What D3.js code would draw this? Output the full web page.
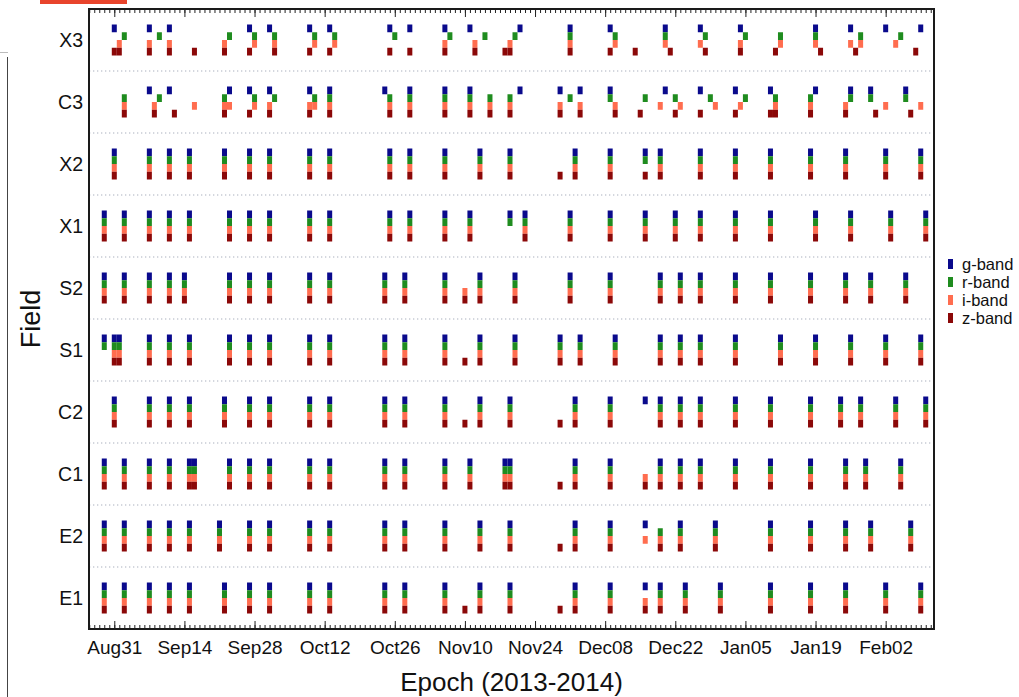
<!DOCTYPE html>
<html><head><meta charset="utf-8">
<script src="https://cdn.jsdelivr.net/npm/d3@7"></script>
<style>
html,body{margin:0;padding:0;background:#fff;}
svg{display:block;font-family:"Liberation Sans",Arial,Helvetica,sans-serif;}
</style></head>
<body><svg id="chart" width="1019" height="697"></svg>
<script>
// Fields (bottom to top)
const fields = ["E1","E2","C1","C2","S1","S2","X1","X2","C3","X3"];
const bands = ["g","r","i","z"];
const bandLabels = ["g-band","r-band","i-band","z-band"];
const bandColors = ["#0a0a8c","#1f8c1f","#ff6d4f","#8b0808"];
// Tick labels (every 14 days, day 0 = Aug 31 2013)
const tickDays = [0,14,28,42,56,70,84,98,112,126,140,154];
const tickLabels = ["Aug31","Sep14","Sep28","Oct12","Oct26","Nov10","Nov24","Dec08","Dec22","Jan05","Jan19","Feb02"];

// Observations per field: [day since Aug31, bands observed]
const E1 = [[-2,"griz"],[2,"griz"],[7,"griz"],[11,"griz"],[15,"griz"],[22,"griz"],[27,"griz"],[31,"griz"],[39,"griz"],[43,"griz"],[54,"griz"],[58,"griz"],[66,"griz"],[70,"z"],[73,"griz"],[79,"griz"],[89,"z"],[92,"griz"],[99,"griz"],[106,"giz"],[109,"griz"],[114,"griz"],[121,"griz"],[131,"griz"],[139,"griz"],[146,"griz"],[154,"griz"],[161,"griz"]];
const E2 = [[-2,"griz"],[2,"griz"],[7,"griz"],[11,"griz"],[15,"griz"],[21,"griz"],[27,"griz"],[31,"griz"],[39,"griz"],[43,"griz"],[54,"griz"],[58,"griz"],[66,"griz"],[73,"griz"],[79,"griz"],[89,"z"],[92,"griz"],[99,"griz"],[106,"gi"],[109,"riz"],[113,"griz"],[120,"griz"],[131,"griz"],[139,"griz"],[146,"griz"],[151,"griz"],[159,"griz"]];
const C1 = [[-2,"griz"],[2,"griz"],[7,"griz"],[11,"griz"],[15,"griz"],[16,"griz"],[23,"griz"],[27,"griz"],[31,"griz"],[39,"griz"],[43,"griz"],[54,"griz"],[58,"griz"],[66,"griz"],[71,"griz"],[78,"griz"],[79,"griz"],[89,"z"],[92,"griz"],[99,"griz"],[106,"iz"],[109,"griz"],[113,"griz"],[117,"griz"],[124,"griz"],[131,"griz"],[139,"griz"],[146,"griz"],[150,"griz"],[157,"griz"]];
const C2 = [[0,"griz"],[7,"griz"],[11,"griz"],[15,"griz"],[22,"griz"],[27,"griz"],[31,"griz"],[39,"griz"],[43,"griz"],[54,"griz"],[58,"griz"],[66,"griz"],[70,"z"],[73,"griz"],[79,"griz"],[89,"z"],[92,"griz"],[99,"griz"],[106,"g"],[109,"griz"],[113,"griz"],[117,"griz"],[124,"griz"],[131,"griz"],[139,"griz"],[145,"griz"],[149,"griz"],[156,"griz"],[162,"griz"]];
const S1 = [[-2,"gr"],[0,"griz"],[1,"griz"],[7,"griz"],[11,"griz"],[15,"griz"],[23,"griz"],[27,"griz"],[31,"griz"],[39,"griz"],[43,"griz"],[54,"griz"],[58,"griz"],[66,"griz"],[70,"z"],[73,"griz"],[80,"griz"],[89,"griz"],[93,"griz"],[100,"griz"],[109,"griz"],[113,"griz"],[117,"griz"],[124,"griz"],[133,"griz"],[140,"griz"],[147,"griz"],[154,"griz"],[161,"griz"]];
const S2 = [[-2,"griz"],[2,"griz"],[7,"griz"],[11,"griz"],[14,"griz"],[23,"griz"],[27,"griz"],[31,"griz"],[39,"griz"],[43,"griz"],[54,"griz"],[58,"griz"],[66,"griz"],[70,"iz"],[73,"griz"],[80,"griz"],[91,"griz"],[99,"griz"],[109,"griz"],[113,"griz"],[117,"griz"],[124,"griz"],[131,"griz"],[139,"griz"],[146,"griz"],[151,"griz"],[158,"griz"]];
const X1 = [[-2,"griz"],[2,"griz"],[7,"griz"],[11,"griz"],[15,"griz"],[23,"griz"],[27,"griz"],[31,"griz"],[39,"griz"],[43,"griz"],[55,"griz"],[59,"griz"],[66,"griz"],[71,"griz"],[79,"gr"],[82,"griz"],[91,"griz"],[99,"griz"],[106,"griz"],[112,"griz"],[117,"griz"],[124,"griz"],[131,"griz"],[140,"griz"],[147,"griz"],[155,"griz"],[162,"griz"]];
const X2 = [[0,"griz"],[7,"griz"],[11,"griz"],[15,"griz"],[22,"griz"],[27,"griz"],[31,"griz"],[39,"griz"],[43,"griz"],[55,"griz"],[59,"griz"],[66,"griz"],[73,"griz"],[79,"griz"],[89,"z"],[92,"griz"],[99,"griz"],[106,"grz"],[109,"griz"],[117,"griz"],[124,"griz"],[131,"griz"],[139,"griz"],[146,"griz"],[154,"griz"],[161,"griz"]];
const C3 = [[2,"riz"],[7,"g"],[8,"iz"],[9,"r"],[11,"g"],[12,"z"],[16,"i"],[22,"riz"],[23,"gi"],[27,"gz"],[28,"ri"],[31,"giz"],[32,"r"],[39,"giz"],[40,"ri"],[43,"griz"],[54,"g"],[55,"riz"],[59,"griz"],[66,"griz"],[71,"griz"],[75,"riz"],[79,"riz"],[81,"g"],[89,"giz"],[91,"r"],[93,"giz"],[99,"gr"],[100,"iz"],[105,"z"],[106,"r"],[109,"i"],[110,"g"],[112,"rz"],[113,"i"],[117,"gz"],[119,"r"],[120,"i"],[124,"gz"],[125,"i"],[126,"r"],[131,"gz"],[132,"riz"],[139,"riz"],[140,"g"],[146,"iz"],[147,"gr"],[151,"gr"],[152,"z"],[154,"i"],[158,"gr"],[159,"z"],[161,"i"]];
const X3 = [[0,"gz"],[1,"iz"],[2,"r"],[7,"giz"],[9,"r"],[11,"giz"],[16,"z"],[22,"iz"],[23,"r"],[27,"gz"],[28,"ri"],[31,"g"],[32,"riz"],[39,"gz"],[40,"ri"],[43,"gz"],[44,"ri"],[55,"gz"],[56,"r"],[59,"gz"],[66,"giz"],[67,"r"],[71,"g"],[72,"iz"],[74,"r"],[78,"z"],[79,"iz"],[80,"r"],[81,"g"],[91,"griz"],[99,"gz"],[100,"ri"],[104,"z"],[110,"gri"],[111,"z"],[117,"gi"],[118,"rz"],[125,"giz"],[126,"r"],[132,"z"],[133,"ri"],[140,"gri"],[141,"z"],[147,"gi"],[148,"z"],[149,"ri"],[154,"g"],[156,"i"],[157,"r"],[160,"z"],[161,"g"]];

const obsByField = [E1,E2,C1,C2,S1,S2,X1,X2,C3,X3];
const bandOffset = [0.1875, 0.0625, -0.0625, -0.1875];

const svg = d3.select("#chart");
const L = 89, R = 934, T = 9, B = 629;
const x = d3.scaleLinear().domain([-5.05, 163.65]).range([L, R]);
const y = d3.scaleLinear().domain([-0.5, 9.5]).range([B, T]);

// screenshot artifacts
svg.append("rect").attr("x",40).attr("y",0).attr("width",87).attr("height",4).attr("fill","#e8442c");
svg.append("line").attr("x1",7.5).attr("x2",7.5).attr("y1",57).attr("y2",697).attr("stroke","#444").attr("stroke-width",1);
svg.append("line").attr("x1",0).attr("x2",8).attr("y1",52.5).attr("y2",52.5).attr("stroke","#bbb").attr("stroke-width",1);

// dotted row separators
svg.append("g").selectAll("line").data(d3.range(1, fields.length)).join("line")
  .attr("x1", L).attr("x2", R)
  .attr("y1", d => y(d - 0.5)).attr("y2", d => y(d - 0.5))
  .attr("stroke", "#a9afbd").attr("stroke-width", 1.2).attr("stroke-dasharray", "1.3,2.7");

// markers
const rects = [];
obsByField.forEach((obs, fi) => {
  obs.forEach(([day, bs]) => {
    bands.forEach((b, bi) => {
      if (bs.includes(b)) rects.push({fi, day, bi});
    });
  });
});
const w = x(1) - x(0);
const h = y(0) - y(0.125);
svg.append("g").selectAll("rect").data(rects).join("rect")
  .attr("x", d => x(d.day) - w / 2)
  .attr("y", d => y(d.fi + bandOffset[d.bi]) - h / 2)
  .attr("width", w).attr("height", h)
  .attr("fill", d => bandColors[d.bi]);

// axes
const minorDays = d3.range(-5, 164);
function styleAxis(g) {
  g.select(".domain").remove();
  g.selectAll("line").attr("stroke", "#222").attr("stroke-width", 1);
}
svg.append("g").attr("transform", `translate(0,${B})`)
  .call(d3.axisBottom(x).tickValues(minorDays).tickSize(-4).tickFormat(""))
  .call(styleAxis);
svg.append("g").attr("transform", `translate(0,${T})`)
  .call(d3.axisTop(x).tickValues(minorDays).tickSize(-4).tickFormat(""))
  .call(styleAxis);
svg.append("g").attr("transform", `translate(0,${T})`)
  .call(d3.axisTop(x).tickValues(tickDays).tickSize(-8).tickFormat(""))
  .call(styleAxis);
const xa = svg.append("g").attr("transform", `translate(0,${B})`)
  .call(d3.axisBottom(x).tickValues(tickDays).tickSize(-8).tickPadding(12)
    .tickFormat((d, i) => tickLabels[i]))
  .call(styleAxis);
xa.selectAll("text").attr("font-size", 19).attr("fill", "#111")
  .attr("font-family", '"Liberation Sans", Arial, sans-serif');

// y axis labels
const ya = svg.append("g").attr("transform", `translate(${L - 6},0)`)
  .call(d3.axisLeft(y).tickValues(d3.range(fields.length)).tickSize(0).tickPadding(0)
    .tickFormat(i => fields[i]));
ya.select(".domain").remove();
ya.selectAll("text").attr("font-size", 19.5).attr("fill", "#111")
  .attr("font-family", '"Liberation Sans", Arial, sans-serif');

// frame
svg.append("rect").attr("x", L).attr("y", T).attr("width", R - L).attr("height", B - T)
  .attr("fill", "none").attr("stroke", "#1a1a1a").attr("stroke-width", 2);

// axis titles
svg.append("text").attr("x", (L + R) / 2 + 0).attr("y", 691).attr("text-anchor", "middle")
  .attr("font-size", 26).attr("fill", "#111").text("Epoch (2013-2014)");
svg.append("text").attr("transform", `translate(40,${(T + B) / 2}) rotate(-90)`)
  .attr("text-anchor", "middle").attr("font-size", 27).attr("fill", "#111").text("Field");

// legend
const lg = svg.append("g").attr("transform", "translate(948,264)");
const li = lg.selectAll("g").data(bandLabels).join("g")
  .attr("transform", (d, i) => `translate(0,${i * 18})`);
li.append("rect").attr("x", 0).attr("y", -5).attr("width", 5).attr("height", 10)
  .attr("fill", (d, i) => bandColors[i]);
li.append("text").attr("x", 14).attr("y", 0).attr("dy", "0.35em")
  .attr("font-size", 16.5).attr("fill", "#111").text(d => d);
</script></body></html>
